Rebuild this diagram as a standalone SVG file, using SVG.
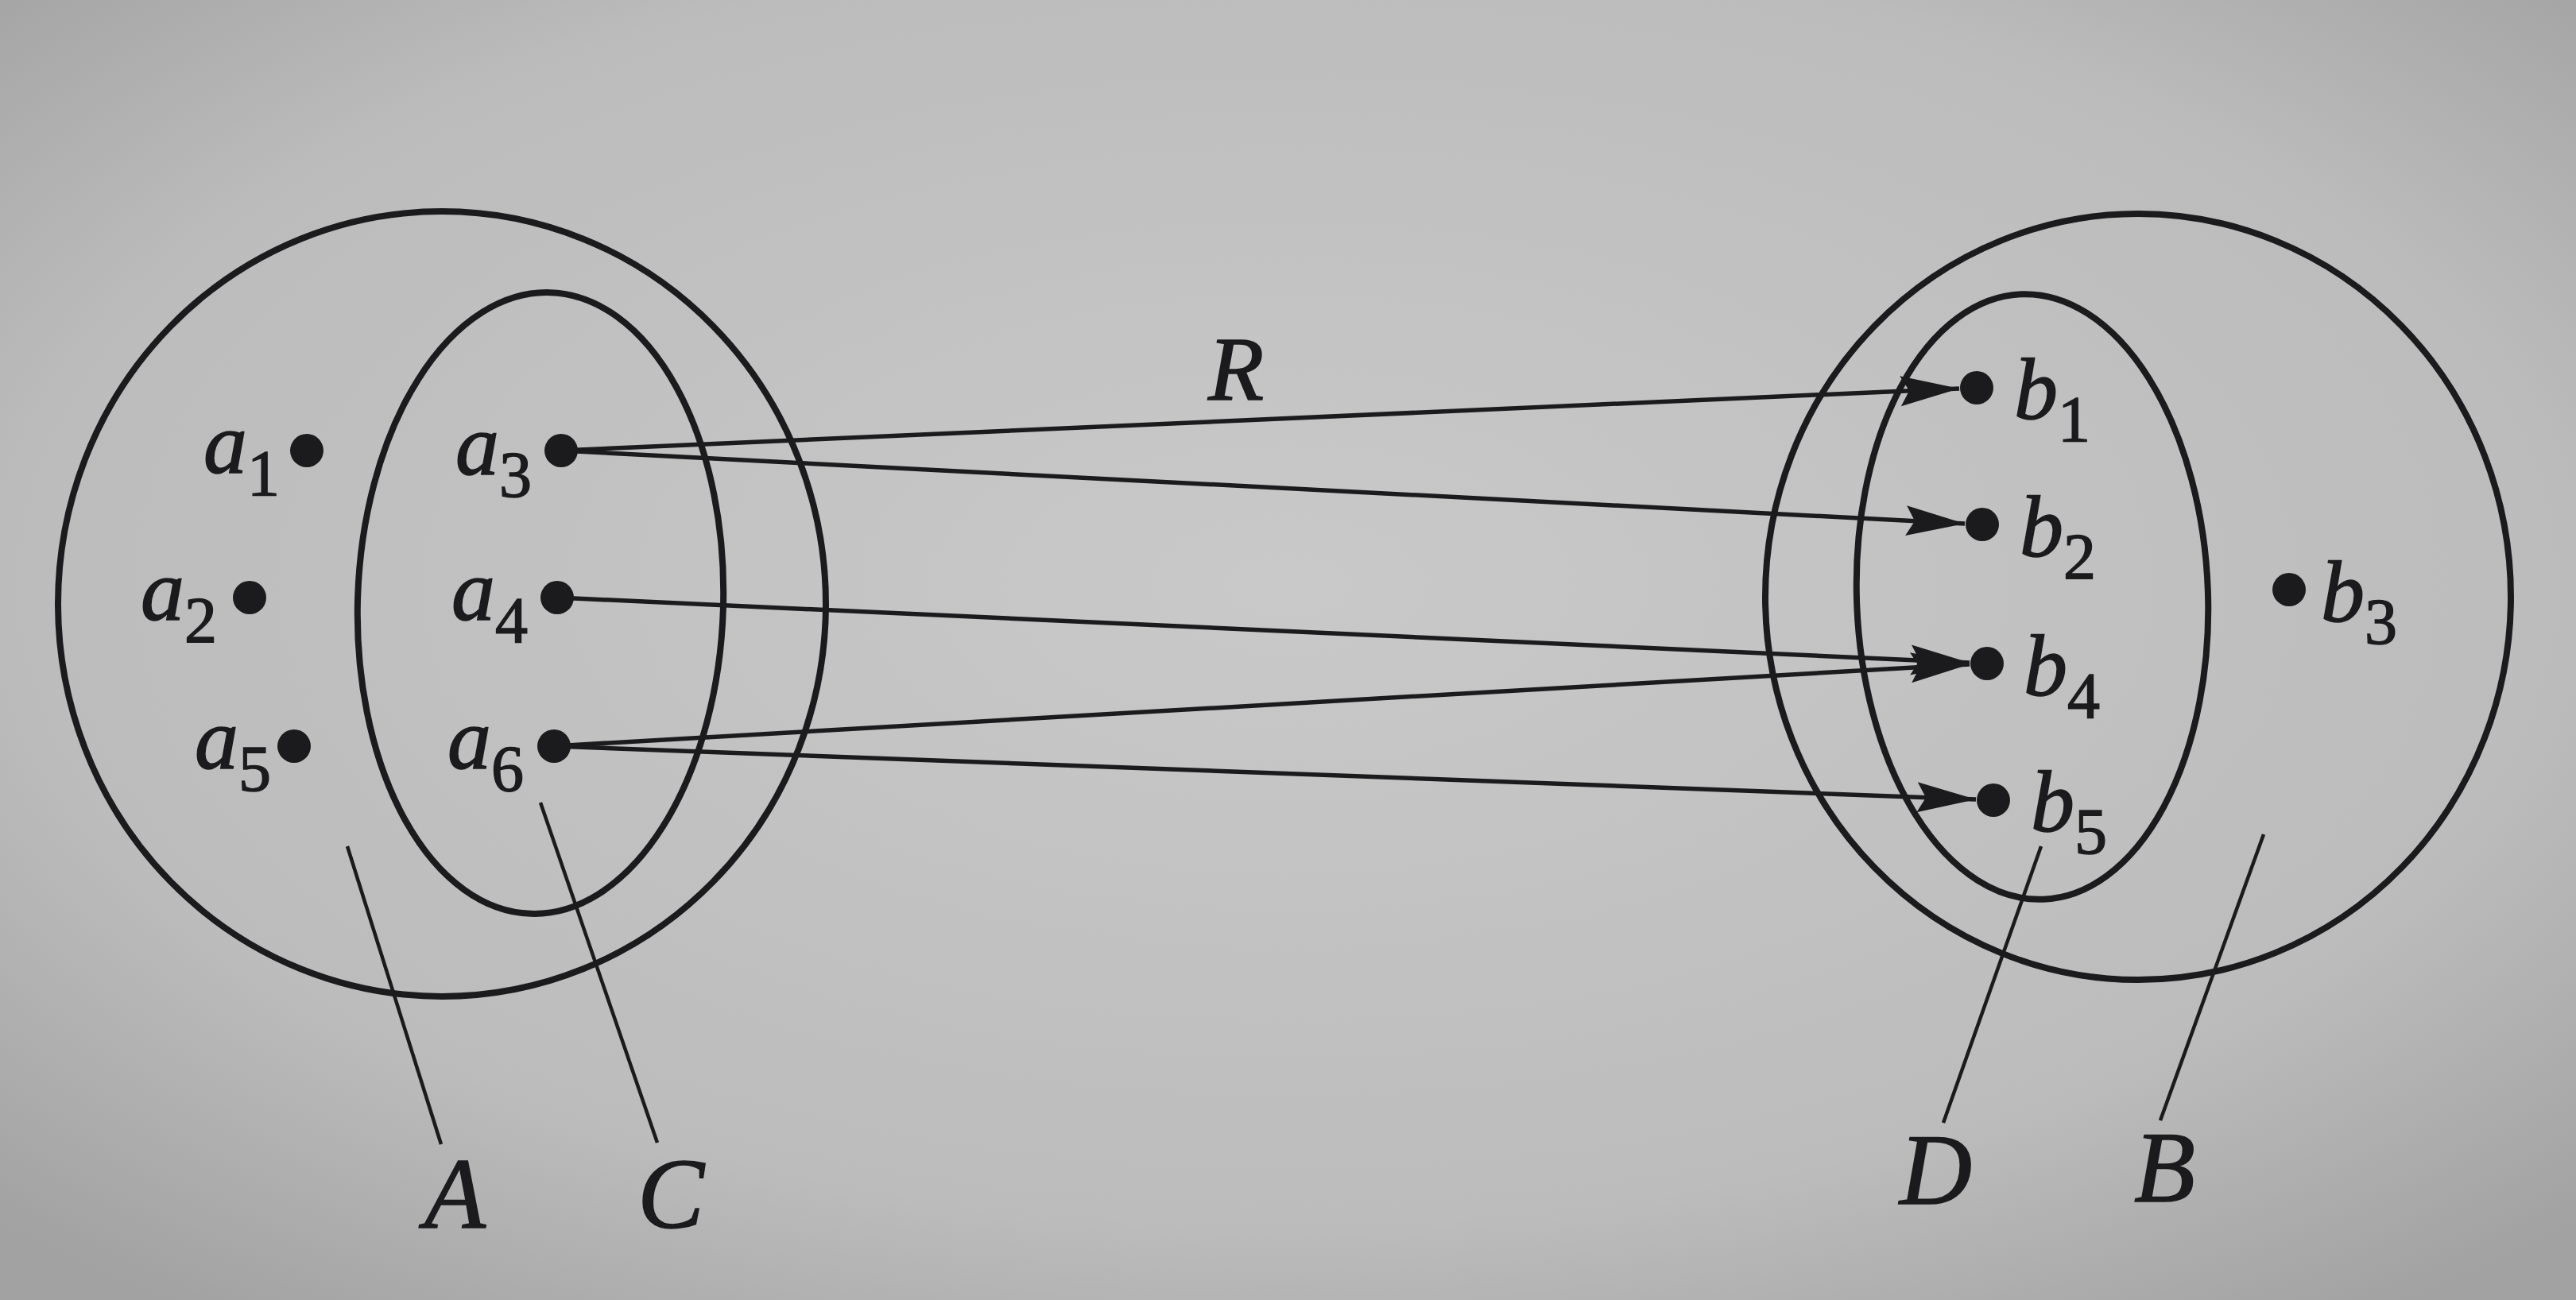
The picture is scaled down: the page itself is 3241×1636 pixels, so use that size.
<svg xmlns="http://www.w3.org/2000/svg" width="3241" height="1636" viewBox="0 0 3241 1636">
  <defs>
    <radialGradient id="bg" cx="50%" cy="45%" r="70%">
      <stop offset="0" stop-color="#c9c9c9"/>
      <stop offset="0.7" stop-color="#bcbcbc"/>
      <stop offset="1" stop-color="#a2a2a2"/>
    </radialGradient>
    <marker id="arr" markerUnits="userSpaceOnUse" viewBox="0 -22 74 44" refX="74" refY="0" markerWidth="74" markerHeight="44" orient="auto">
      <path d="M74,0 L0,-19 L11,0 L0,19 Z" fill="#1b1b1e"/>
    </marker>
    <style>
      .set { fill: none; stroke: #1b1b1e; stroke-width: 8; }
      .dot { fill: #1b1b1e; }
      .lbl { font-family: "Liberation Serif", "Times New Roman", serif; font-style: italic; font-size: 110px; fill: #1b1b1e; stroke: #1b1b1e; stroke-width: 1.5; }
      .sub { font-style: normal; font-size: 82px; }
      .cap { font-family: "Liberation Serif", "Times New Roman", serif; font-style: italic; font-size: 126px; fill: #1b1b1e; stroke: #1b1b1e; stroke-width: 1.5; }
      .arrow { stroke: #1b1b1e; stroke-width: 5.5; fill: none; marker-end: url(#arr); }
      .leader { stroke: #1b1b1e; stroke-width: 4.5; fill: none; }
    </style>
  </defs>
  <rect width="3241" height="1636" fill="url(#bg)"/>

  <g id="set-A">
    <ellipse class="set" cx="556" cy="760" rx="483" ry="494"/>
  </g>
  <g id="set-C">
    <ellipse class="set" cx="680" cy="759" rx="230" ry="391" transform="rotate(1.8 680 759)"/>
  </g>
  <g id="set-B">
    <ellipse class="set" cx="2690" cy="751" rx="469" ry="482"/>
  </g>
  <g id="set-D">
    <ellipse class="set" cx="2557" cy="751" rx="221" ry="381" transform="rotate(-2 2557 751)"/>
  </g>

  <g id="node-a1"><circle class="dot" cx="386" cy="567" r="21"/><text class="lbl" x="256" y="595">a<tspan class="sub" dy="28">1</tspan></text></g>
  <g id="node-a2"><circle class="dot" cx="314" cy="752" r="21"/><text class="lbl" x="177" y="780">a<tspan class="sub" dy="28">2</tspan></text></g>
  <g id="node-a5"><circle class="dot" cx="370" cy="939" r="21"/><text class="lbl" x="245" y="967">a<tspan class="sub" dy="28">5</tspan></text></g>
  <g id="node-a3"><circle class="dot" cx="706" cy="567" r="21"/><text class="lbl" x="573" y="597">a<tspan class="sub" dy="28">3</tspan></text></g>
  <g id="node-a4"><circle class="dot" cx="701" cy="752" r="21"/><text class="lbl" x="568" y="780">a<tspan class="sub" dy="28">4</tspan></text></g>
  <g id="node-a6"><circle class="dot" cx="697" cy="939" r="21"/><text class="lbl" x="563" y="967">a<tspan class="sub" dy="28">6</tspan></text></g>

  <g id="node-b1"><circle class="dot" cx="2487" cy="488" r="21"/><text class="lbl" x="2534" y="527">b<tspan class="sub" dy="28">1</tspan></text></g>
  <g id="node-b2"><circle class="dot" cx="2494" cy="660" r="21"/><text class="lbl" x="2541" y="700">b<tspan class="sub" dy="28">2</tspan></text></g>
  <g id="node-b4"><circle class="dot" cx="2500" cy="835" r="21"/><text class="lbl" x="2546" y="875">b<tspan class="sub" dy="28">4</tspan></text></g>
  <g id="node-b5"><circle class="dot" cx="2508" cy="1007" r="21"/><text class="lbl" x="2555" y="1046">b<tspan class="sub" dy="28">5</tspan></text></g>
  <g id="node-b3"><circle class="dot" cx="2880" cy="742" r="21"/><text class="lbl" x="2920" y="782">b<tspan class="sub" dy="28">3</tspan></text></g>

  <g id="labels">
    <text class="cap" x="534" y="1545">A</text>
    <text class="cap" x="802" y="1545">C</text>
    <text class="cap" x="2390" y="1515">D</text>
    <text class="cap" x="2685" y="1512">B</text>
    <text class="cap" x="1520" y="503" style="font-size:115px">R</text>
  </g>

  <g id="connectors">
    <line class="arrow" x1="706" y1="567" x2="2465" y2="489"/>
    <line class="arrow" x1="706" y1="567" x2="2472" y2="659"/>
    <line class="arrow" x1="701" y1="752" x2="2478" y2="834"/>
    <line class="arrow" x1="697" y1="939" x2="2478" y2="836"/>
    <line class="arrow" x1="697" y1="939" x2="2486" y2="1006"/>
    <line class="leader" x1="437" y1="1065" x2="555" y2="1440"/>
    <line class="leader" x1="680" y1="1010" x2="827" y2="1438"/>
    <line class="leader" x1="2568" y1="1065" x2="2445" y2="1413"/>
    <line class="leader" x1="2848" y1="1050" x2="2718" y2="1410"/>
  </g>
</svg>
